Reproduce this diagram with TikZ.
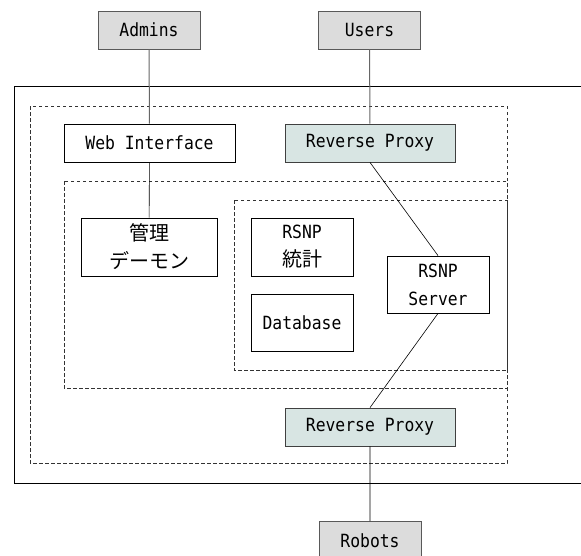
\documentclass[tikz,border=0pt]{standalone}
\usepackage{fontspec}
\setmonofont[FakeStretch=0.9]{DejaVu Sans Mono}
\newfontfamily\jpfont{Noto Sans CJK JP}
\usetikzlibrary{positioning}

\definecolor{actorgray}{HTML}{DCDCDC}
\definecolor{proxyteal}{HTML}{D8E5E3}
\newcommand{\jp}[1]{{\jpfont\fontsize{20}{28}\selectfont #1}}

\begin{document}
\begin{tikzpicture}[x=1pt, y=-1pt,
					font=\ttfamily\fontsize{18.2}{28}\selectfont,
					box/.style={draw, line width=0.8pt, fill=white, align=center,
						inner sep=0pt, minimum height=38},
					actor/.style={box, draw=black!65, fill=actorgray, minimum width=102},
					proxy/.style={box, draw=black!75, fill=proxyteal, minimum width=170},
					zone/.style={draw=black!80, line width=0.7pt, dash pattern=on 3.5pt off 2.5pt},
					link/.style={draw, line width=0.6pt},
					userlink/.style={draw=black!60, line width=1pt}]

	\useasboundingbox (0,0) rectangle (581,555);
	\clip (0,0) rectangle (581,555);

	% host and zones
	\draw[line width=0.9pt] (14,86) rectangle (600,483);
	\draw[zone] (30,106) rectangle (507,463);
	\draw[zone] (64,181) rectangle (507,388);
	\draw[zone] (234,200) rectangle (507,370);

	% outside
	\node[actor] (admins) at (149,30)  {Admins};
	\node[actor] (users) at (369.5,30)  {Users};
	\node[actor] (robots) at (370,540.5)  {Robots};

	% inside
	\node[box, minimum width=171] (web) at (149.5,143)  {Web Interface};
	\node[proxy] (proxytop) at (370,143)  {Reverse Proxy};
	\node[box, minimum width=136, minimum height=58] (daemon) at (149,247)  {\jp{管理}\\\jp{デーモン}};
	\node[box, minimum width=102, minimum height=58] (stats) at (302,247)  {RSNP\\\jp{統計}};
	\node[box, minimum width=102, minimum height=57] (db) at (302,322.5)  {Database};
	\node[box, minimum width=102, minimum height=57] (server) at (438,284.5)  {RSNP\\Server};
	\node[proxy] (proxybot) at (370,427)  {Reverse Proxy};

	\draw[userlink] (admins) -- (web);
	\draw[userlink] (users) -- (proxytop);
	\draw[link] (web) -- (daemon)
			(proxytop.south) -- (server.north)
			(server.south) -- (proxybot.north)
			(proxybot) -- (robots);
\end{tikzpicture}
\end{document}
